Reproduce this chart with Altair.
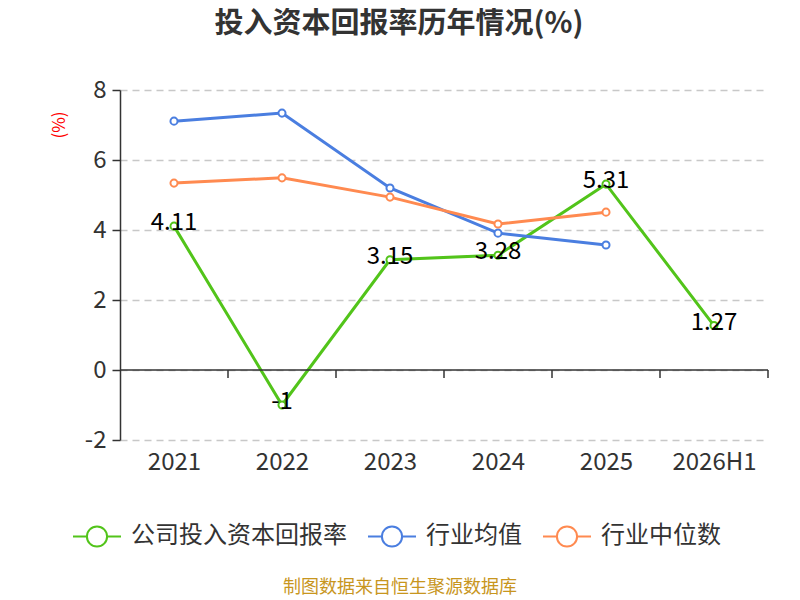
import altair as alt
import pandas as pd

categories = ["2021", "2022", "2023", "2024", "2025", "2026H1"]
company = [4.11, -1, 3.15, 3.28, 5.31, 1.27]
industry_avg = [7.11, 7.34, 5.20, 3.91, 3.57]
industry_median = [5.34, 5.49, 4.94, 4.17, 4.51]

series_names = ["公司投入资本回报率", "行业均值", "行业中位数"]
colors = ["#52c41a", "#4a7ee0", "#ff8a50"]

rows = []
for i, v in enumerate(company):
    rows.append({"idx": i, "cat": categories[i], "series": series_names[0], "value": v})
for i, v in enumerate(industry_avg):
    rows.append({"idx": i, "cat": categories[i], "series": series_names[1], "value": v})
for i, v in enumerate(industry_median):
    rows.append({"idx": i, "cat": categories[i], "series": series_names[2], "value": v})
df = pd.DataFrame(rows)
comp_df = df[df.series == series_names[0]].copy()
comp_df["label"] = [f"{v:g}" for v in company]

W, H = 648, 350
FONT = "Noto Sans CJK SC"

label_expr = "[" + ",".join(f"'{c}'" for c in categories) + "][datum.value]"
x_scale = alt.Scale(domain=[-0.5, len(categories) - 0.5], nice=False, zero=False)
y_scale = alt.Scale(domain=[-2, 8], nice=False, zero=False)

x_enc = alt.X(
    "idx:Q",
    scale=x_scale,
    axis=alt.Axis(
        values=list(range(len(categories))),
        labelExpr=label_expr,
        domain=False,
        ticks=False,
        grid=False,
        title=None,
        labelFontSize=24,
        labelColor="#333333",
        labelFont=FONT,
        labelPadding=10,
    ),
)
y_enc = alt.Y(
    "value:Q",
    scale=y_scale,
    axis=alt.Axis(
        values=[-2, 0, 2, 4, 6, 8],
        labelExpr="'' + datum.value",
        title=None,
        grid=True,
        gridDash=[7, 5],
        gridColor="#c8c8c8",
        gridWidth=1.5,
        domainColor="#333333",
        domainWidth=1.5,
        tickColor="#333333",
        tickSize=8,
        tickWidth=1.5,
        labelFontSize=24,
        labelColor="#333333",
        labelFont=FONT,
        labelPadding=6,
    ),
)
color_enc = alt.Color(
    "series:N",
    scale=alt.Scale(domain=series_names, range=colors),
    legend=alt.Legend(
        orient="none",
        legendX=-48,
        legendY=421,
        direction="horizontal",
        title=None,
        symbolType="M-1,0L-0.42,0M0.42,0L1,0M-0.42,0A0.42,0.42 0 1,1 0.42,0A0.42,0.42 0 1,1 -0.42,0",
        symbolSize=2304,
        symbolStrokeWidth=2,
        symbolFillColor="white",
        labelFontSize=24,
        labelFont=FONT,
        labelColor="#333333",
        labelOffset=9,
        labelLimit=400,
        columnPadding=17,
        symbolLimit=0,
    ),
)

base = alt.Chart(df)

lines = base.mark_line(strokeWidth=3).encode(x=x_enc, y=y_enc, color=color_enc, detail="series:N")
points = base.mark_point(filled=True, fill="white", size=50, strokeWidth=2, opacity=1).encode(
    x="idx:Q",
    y="value:Q",
    stroke=alt.Stroke("series:N", scale=alt.Scale(domain=series_names, range=colors), legend=None),
)

zero_line = alt.Chart(pd.DataFrame({"z": [0]})).mark_rule(color="#333333", strokeWidth=1.5).encode(
    y="z:Q", x=alt.value(0), x2=alt.value(W)
)
tick_df = pd.DataFrame({"b": [i + 0.5 for i in range(len(categories))], "z": [0] * len(categories)})
ticks = alt.Chart(tick_df).mark_rule(color="#333333", strokeWidth=1.5).encode(
    x="b:Q", y="z:Q", y2=alt.value(288)
)

labels = alt.Chart(comp_df).mark_text(fontSize=24, font=FONT, color="#000000", baseline="middle", dy=-3).encode(
    x="idx:Q", y="value:Q", text="label:N"
)

title = alt.Chart(pd.DataFrame({"t": ["投入资本回报率历年情况(%)"]})).mark_text(
    fontSize=29, fontWeight="bold", font=FONT, color="#333333", align="center", baseline="middle"
).encode(text="t:N", x=alt.value(279), y=alt.value(-66))

ytitle = alt.Chart(pd.DataFrame({"t": ["(%)"]})).mark_text(
    fontSize=17, font=FONT, color="#ff0000", angle=270, align="center", baseline="middle"
).encode(text="t:N", x=alt.value(-60), y=alt.value(35))

footer = alt.Chart(pd.DataFrame({"t": ["制图数据来自恒生聚源数据库"]})).mark_text(
    fontSize=18, font=FONT, color="#c8961e", align="center", baseline="middle"
).encode(text="t:N", x=alt.value(280), y=alt.value(498))

chart = alt.layer(lines, zero_line, ticks, points, labels, title, ytitle, footer).properties(
    width=W,
    height=H,
    autosize="none",
    background="white",
    padding={"left": 112, "top": 82, "right": 24, "bottom": 160},
).configure_view(stroke="transparent", strokeWidth=0)

chart.save("out.html", embed_options={"renderer": "svg", "actions": False})
